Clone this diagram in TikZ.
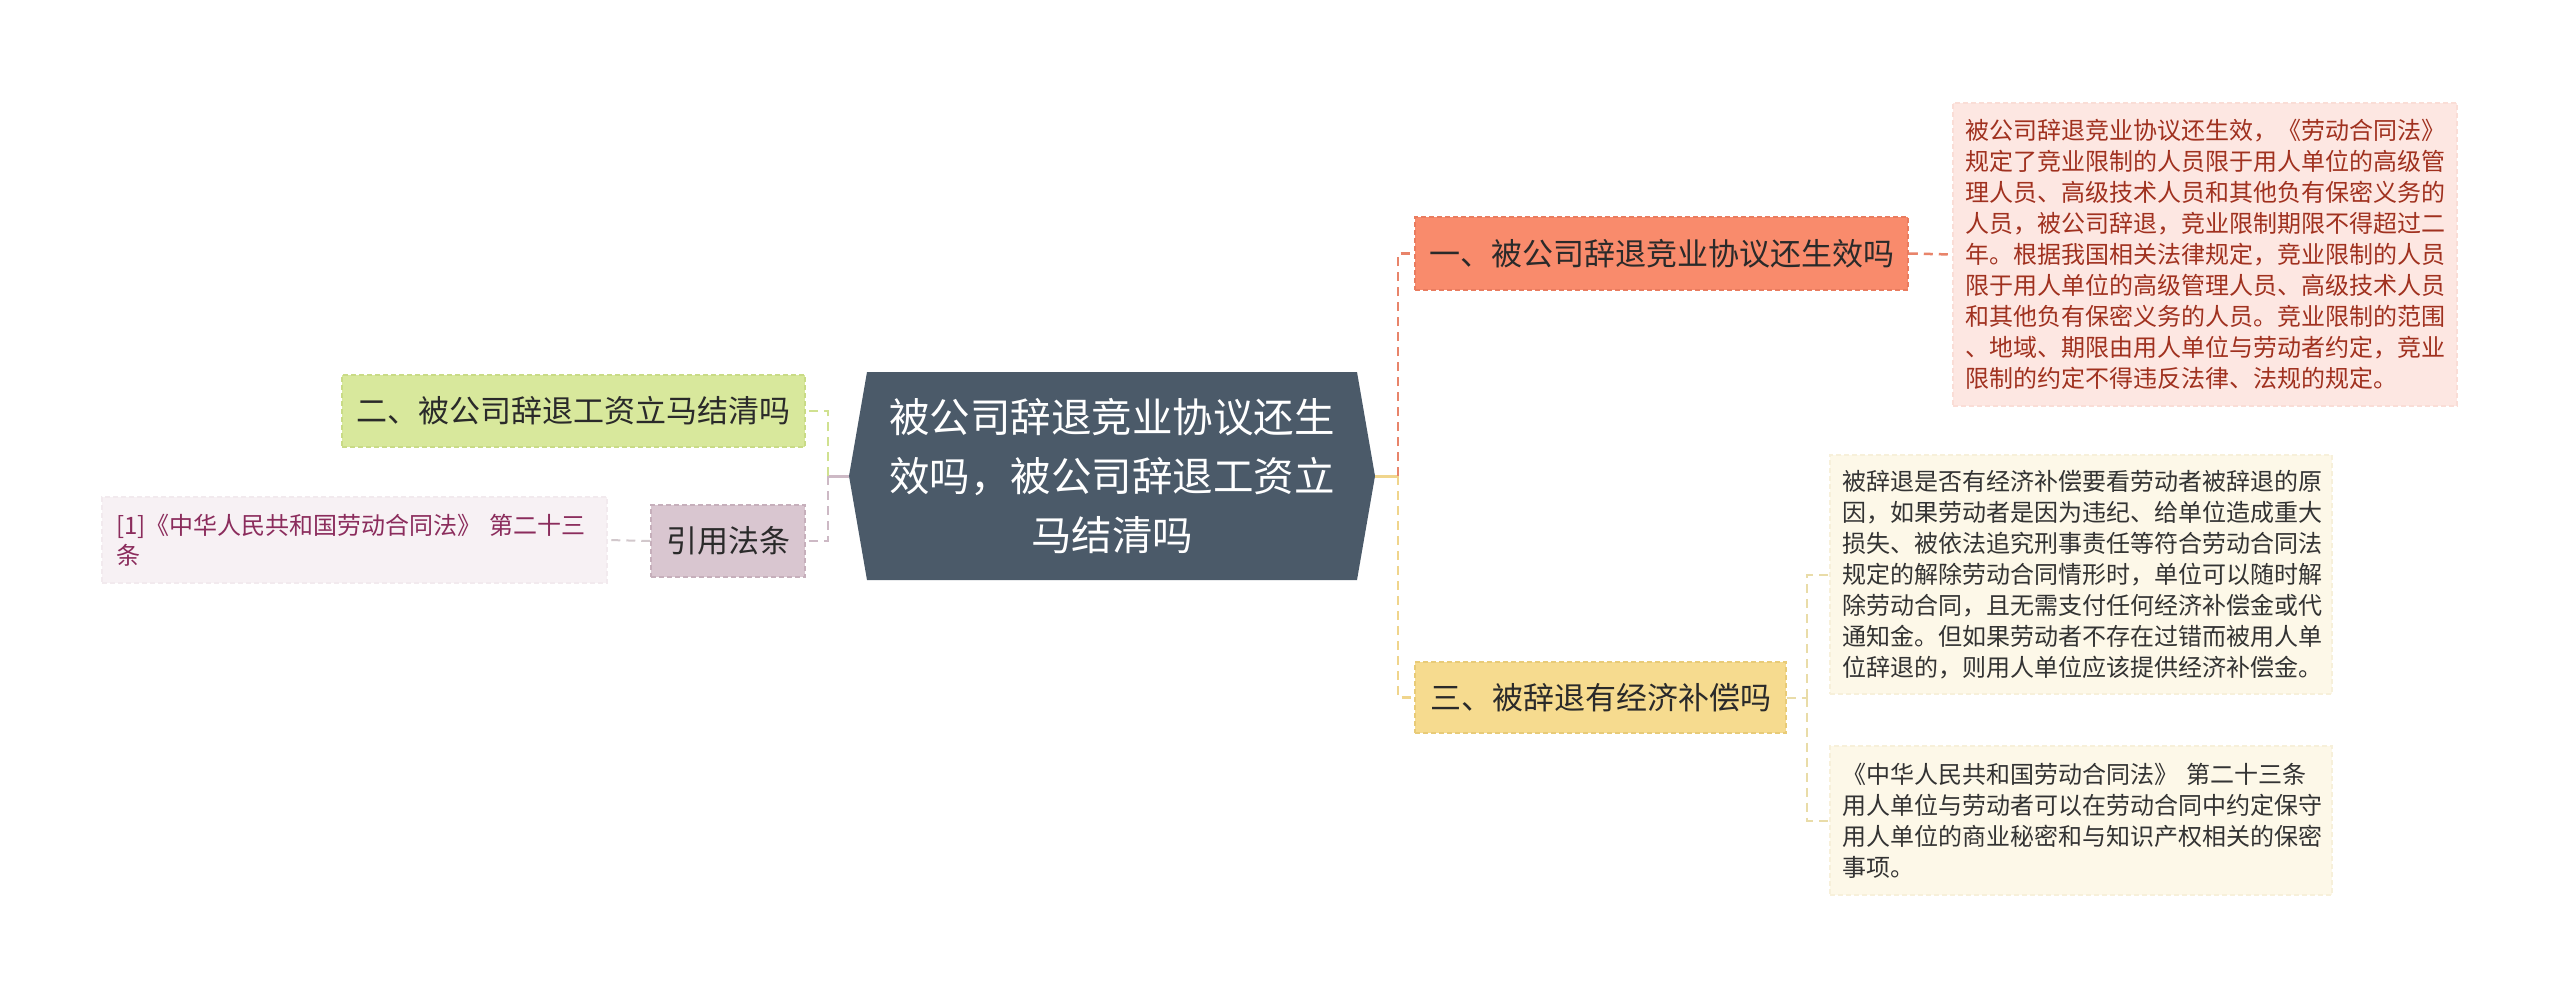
\documentclass[tikz,border=0pt]{standalone}
\usepackage{fontspec}
\newfontfamily\cjk{Noto Sans CJK SC}
\definecolor{cfill}{HTML}{4B5A69}
\definecolor{nofill}{HTML}{F98B6C}
\definecolor{noline}{HTML}{E97C5F}
\definecolor{pfill}{HTML}{FDE7E2}
\definecolor{ptext}{HTML}{A0311F}
\definecolor{pline}{HTML}{FADDD6}
\definecolor{ntfill}{HTML}{D8E89C}
\definecolor{ntline}{HTML}{C9DB86}
\definecolor{rtfill}{HTML}{D9C6D0}
\definecolor{rtline}{HTML}{C6AFBB}
\definecolor{rbfill}{HTML}{F7F1F4}
\definecolor{rbtext}{HTML}{8B2C5C}
\definecolor{rbline}{HTML}{F2EAEE}
\definecolor{nthfill}{HTML}{F6DB8F}
\definecolor{nthline}{HTML}{E8CB78}
\definecolor{dfill}{HTML}{FDF8E8}
\definecolor{dline}{HTML}{F7F0DA}
\definecolor{dtext}{HTML}{333333}
\definecolor{ntext}{HTML}{2A2A2A}
\definecolor{csalmon}{HTML}{E8846A}
\definecolor{cyellow}{HTML}{F0D58C}
\definecolor{cgreen}{HTML}{D0E190}
\definecolor{cmauve}{HTML}{CDB9C5}
\definecolor{cgray}{HTML}{D2C8CC}
\definecolor{clyellow}{HTML}{E9DCA8}
\begin{document}
\begin{tikzpicture}[x=1pt,y=-1pt,
  topic/.style={rectangle, inner sep=0pt, text=ntext, line width=1.5pt,
    dash pattern=on 5pt off 3pt, align=center,
    font=\cjk\fontsize{31}{37}\selectfont},
  detail/.style={rectangle, inner xsep=12pt, inner ysep=0pt, line width=1.2pt,
    dash pattern=on 5pt off 3pt, align=left,
    font=\cjk\fontsize{24}{31}\selectfont},
  dconn/.style={line width=2.5pt, dash pattern=on 9pt off 6pt},
  sconn/.style={line width=3pt}]
\useasboundingbox (0,0) rectangle (2560,997);
\fill[white] (0,0) rectangle (2560,997);

% central topic
\coordinate (cL) at (849,476);
\coordinate (cR) at (1375,476);
\fill[cfill] (cL) -- (867,372) -- (1357,372) -- (cR) -- (1357,580) -- (867,580) -- cycle;
\node[text=white, align=center, font=\cjk\fontsize{40.5}{59}\selectfont] (c) at (1112,476)
  {被公司辞退竞业协议还生\\效吗，被公司辞退工资立\\马结清吗};

% right branch
\node[topic, fill=nofill, draw=noline, text=ntext, minimum width=493pt, minimum height=73pt]
  (n1) at (1661.5,253.5) {一、被公司辞退竞业协议还生效吗};
\node[topic, fill=nthfill, draw=nthline, minimum width=371pt, minimum height=71pt]
  (n3) at (1600.5,697.5) {三、被辞退有经济补偿吗};

\node[detail, fill=pfill, draw=pline, text=ptext, text width=480pt, minimum height=303pt]
  (p1) at (2205,254.5) {被公司辞退竞业协议还生效，《劳动合同法》\\规定了竞业限制的人员限于用人单位的高级管\\理人员、高级技术人员和其他负有保密义务的\\人员，被公司辞退，竞业限制期限不得超过二\\年。根据我国相关法律规定，竞业限制的人员\\限于用人单位的高级管理人员、高级技术人员\\和其他负有保密义务的人员。竞业限制的范围\\、地域、期限由用人单位与劳动者约定，竞业\\限制的约定不得违反法律、法规的规定。};

\node[detail, fill=dfill, draw=dline, text=dtext, text width=478pt, minimum height=239pt]
  (d2a) at (2081,574.5) {被辞退是否有经济补偿要看劳动者被辞退的原\\因，如果劳动者是因为违纪、给单位造成重大\\损失、被依法追究刑事责任等符合劳动合同法\\规定的解除劳动合同情形时，单位可以随时解\\除劳动合同，且无需支付任何经济补偿金或代\\通知金。但如果劳动者不存在过错而被用人单\\位辞退的，则用人单位应该提供经济补偿金。};

\node[detail, fill=dfill, draw=dline, text=dtext, text width=478pt, minimum height=149pt]
  (d2b) at (2081,820.5) {《中华人民共和国劳动合同法》 第二十三条\\用人单位与劳动者可以在劳动合同中约定保守\\用人单位的商业秘密和与知识产权相关的保密\\事项。};

% left branch
\node[topic, fill=ntfill, draw=ntline, minimum width=463pt, minimum height=72pt]
  (n2) at (573.5,411) {二、被公司辞退工资立马结清吗};
\node[topic, fill=rtfill, draw=rtline, minimum width=154pt, minimum height=72pt]
  (rt) at (728,541) {引用法条};
\node[detail, fill=rbfill, draw=rbline, text=rbtext, inner xsep=14pt, text width=477pt,
  minimum height=86pt, font=\cjk\fontsize{24}{30}\selectfont]
  (rb) at (354.5,540) {[1]《中华人民共和国劳动合同法》 第二十三\\条};

% connectors right
\coordinate (jR) at (1398,476);
\draw[sconn, cyellow] (cR) -- (jR);
\draw[dconn, csalmon] (jR) |- (n1.west);
\draw[dconn, cyellow] (jR) |- (n3.west);
\draw[dconn, csalmon] (n1.east) -- (p1.west);
\coordinate (j3) at (1807,697.5);
\draw[dconn, clyellow, line width=2pt] (n3.east) -- (j3);
\draw[dconn, clyellow, line width=2pt] (j3) |- (d2a.west);
\draw[dconn, clyellow, line width=2pt] (j3) |- (d2b.west);

% connectors left
\coordinate (jL) at (828,476);
\draw[sconn, cmauve] (cL) -- (jL);
\draw[dconn, cgreen] (jL) |- (n2.east);
\draw[dconn, cmauve] (jL) |- (rt.east);
\draw[dconn, cgray, line width=2pt] (rt.west) -- (rb.east);
\end{tikzpicture}
\end{document}
